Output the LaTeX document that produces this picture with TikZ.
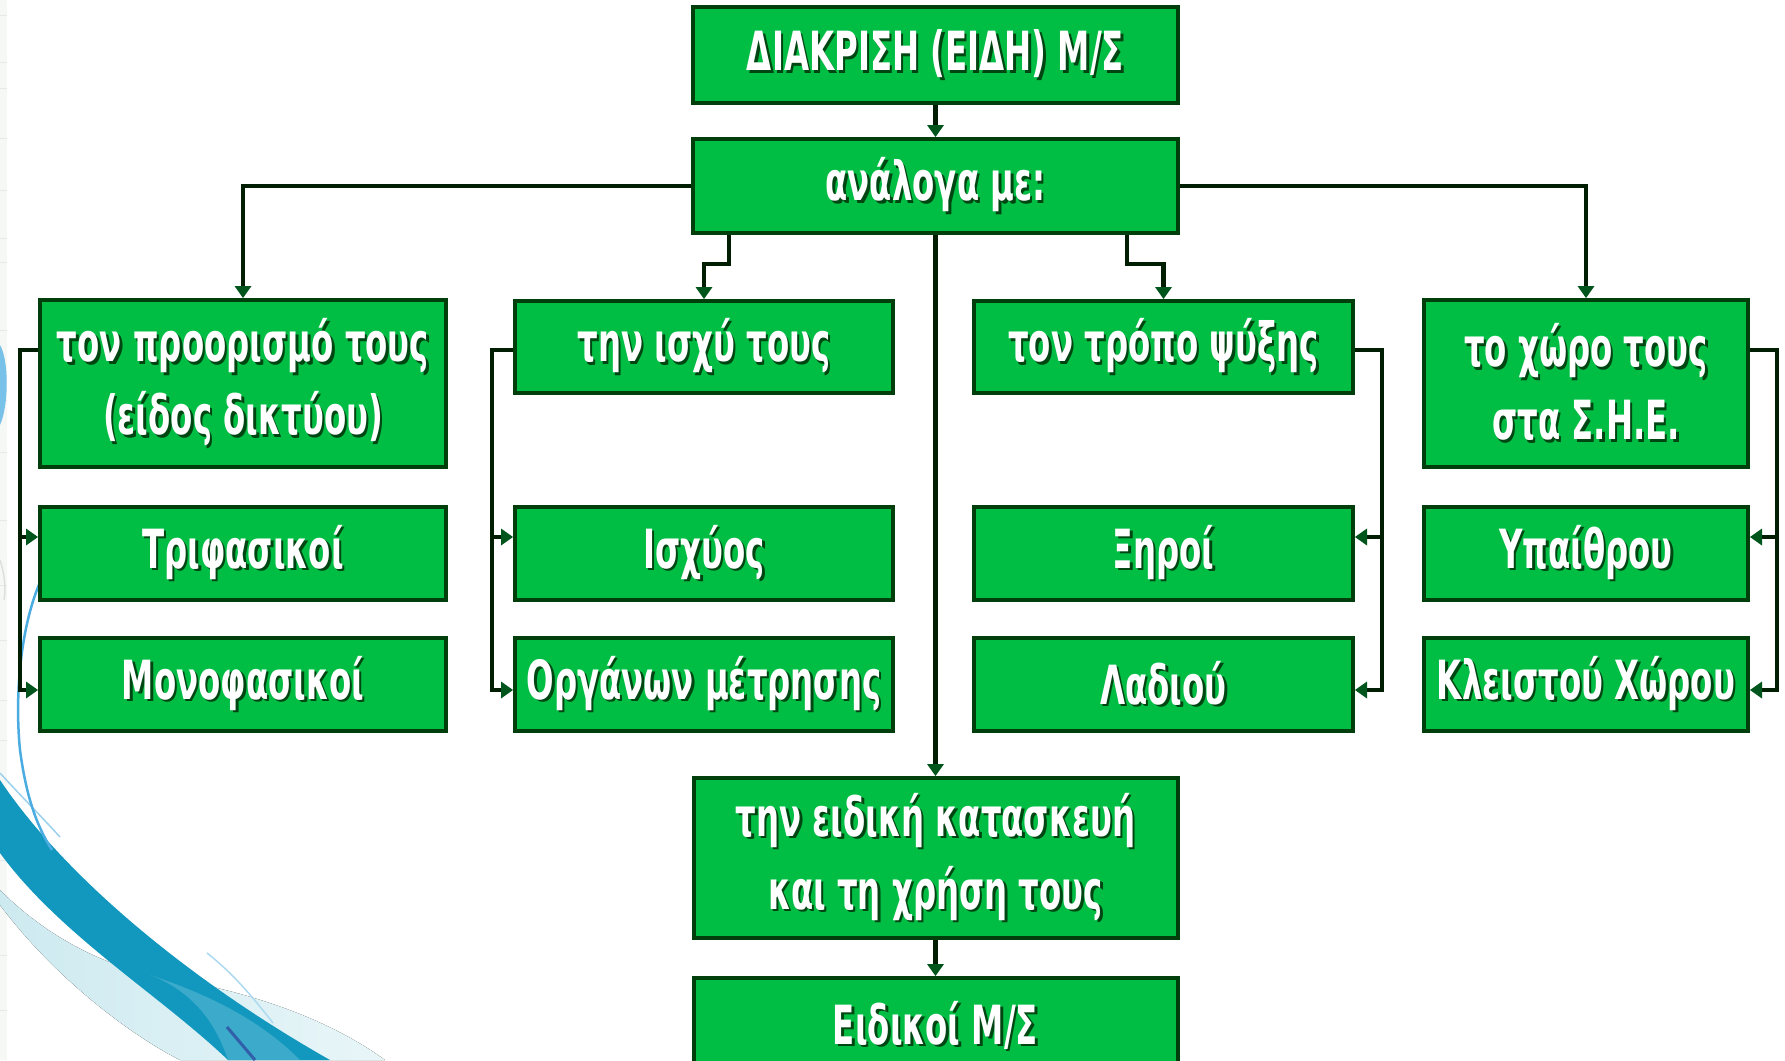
\documentclass[tikz,border=0pt]{standalone}
\usepackage{fontspec}
\newfontfamily\gfont[FakeStretch=0.6]{DejaVu Sans}
\usetikzlibrary{arrows.meta}

\definecolor{boxgreen}{RGB}{0,189,68}
\definecolor{boxedge}{RGB}{0,62,12}
\definecolor{wirecol}{RGB}{0,30,2}
\definecolor{tipgreen}{RGB}{0,85,28}
\definecolor{txtshadow}{RGB}{0,70,18}
\definecolor{swteal}{RGB}{18,152,190}
\definecolor{swpale}{RGB}{205,234,240}
\definecolor{swsky}{RGB}{75,172,225}
\definecolor{swnavy}{RGB}{50,95,170}
\definecolor{edgestrip}{RGB}{246,248,246}

% white text with a dark green drop shadow
\newcommand\txtsh[1]{\leavevmode\rlap{\kern2.5pt\raisebox{-2.5pt}{\color{txtshadow}#1}}#1}

\tikzset{
  gbox/.style={draw=boxedge, line width=4pt, fill=boxgreen, inner sep=0pt,
    text=white, align=center,
    font=\gfont\bfseries\fontsize{54}{73}\selectfont},
  wire/.style={draw=wirecol, line width=4.5pt},
  arr/.style={wire, -{Triangle[width=17pt,length=12pt,line width=0pt,color=tipgreen]}},
}

\begin{document}
\begin{tikzpicture}[x=1pt,y=-1pt]
\useasboundingbox (0,0) rectangle (1785,1060);
\fill[white] (0,0) rectangle (1785,1060);

% pale strip along the left edge
\fill[edgestrip] (0,0) rectangle (7,1060);
\foreach \yy in {15,62,88,138,190,238,262,330,400,452,520,585,640,700,740,790,860,905,955,1010}
  \draw[gray!18, line width=0.8pt] (0,\yy) -- (7,\yy);

% decorative swooshes at the lower left
\fill[swsky!75] (0,345) .. controls (9,360) and (9,405) .. (0,425) -- cycle;
\draw[gray!25, line width=1.5pt] (0,560) .. controls (5,575) and (6,590) .. (4,600);
\fill[left color=swpale, right color=swpale!45] (0,905) .. controls (60,985) and (140,1040) .. (180,1060)
  -- (385,1060) .. controls (330,1020) and (250,990) .. (150,975)
  .. controls (90,960) and (40,930) .. (0,890) -- cycle;
\fill[swteal] (0,780) .. controls (60,870) and (180,975) .. (330,1060)
  -- (228,1060) .. controls (160,995) and (60,935) .. (0,853) -- cycle;
\fill[swteal!70!white, opacity=0.6] (150,975) .. controls (190,990) and (215,1020) .. (228,1060)
  -- (300,1060) .. controls (260,1020) and (210,995) .. (150,975) -- cycle;
\draw[swsky!55, line width=1.5pt] (0,773) .. controls (20,795) and (40,815) .. (60,837);
\draw[swsky, line width=2.5pt] (45,572) .. controls (22,615) and (14,690) .. (20,750)
  .. controls (26,795) and (36,825) .. (52,850);
\draw[swsky!45, line width=1.5pt] (207,953) .. controls (235,975) and (255,1000) .. (273,1023);
\draw[swnavy, line width=3pt] (227,1027) -- (255,1060);

% boxes
\node[gbox, minimum width=485pt, minimum height=96pt] (top) at (935.5,55)
  {\txtsh{ΔΙΑΚΡΙΣΗ (ΕΙΔΗ) Μ/Σ}};
\node[gbox, minimum width=485pt, minimum height=94pt] (anl) at (935.5,186)
  {\txtsh{ανάλογα με:}};

\node[gbox, minimum width=406pt, minimum height=167pt] (p1) at (243,383.5)
  {\txtsh{τον προορισμό τους}\\\txtsh{(είδος δικτύου)}};
\node[gbox, minimum width=406pt, minimum height=93pt] (t1) at (243,553.5)
  {\txtsh{Τριφασικοί}};
\node[gbox, minimum width=406pt, minimum height=93pt] (m1) at (243,684.5)
  {\txtsh{Μονοφασικοί}};

\node[gbox, minimum width=378pt, minimum height=92pt] (p2) at (704,347)
  {\txtsh{την ισχύ τους}};
\node[gbox, minimum width=378pt, minimum height=93pt] (t2) at (704,553.5)
  {\txtsh{Ισχύος}};
\node[gbox, minimum width=378pt, minimum height=93pt] (m2) at (704,684.5)
  {\txtsh{Οργάνων μέτρησης}};

\node[gbox, minimum width=379pt, minimum height=92pt] (p3) at (1163.5,347)
  {\txtsh{τον τρόπο ψύξης}};
\node[gbox, minimum width=379pt, minimum height=93pt] (t3) at (1163.5,553.5)
  {\txtsh{Ξηροί}};
\node[gbox, minimum width=379pt, minimum height=93pt] (m3) at (1163.5,684.5)
  {\txtsh{Λαδιού}};

\node[gbox, minimum width=324pt, minimum height=167pt] (p4) at (1586,383.5)
  {\txtsh{το χώρο τους}\\\txtsh{στα Σ.Η.Ε.}};
\node[gbox, minimum width=324pt, minimum height=93pt] (t4) at (1586,553.5)
  {\txtsh{Υπαίθρου}};
\node[gbox, minimum width=324pt, minimum height=93pt] (m4) at (1586,684.5)
  {\txtsh{Κλειστού Χώρου}};

\node[gbox, minimum width=484pt, minimum height=160pt] (sp) at (935.5,858)
  {\txtsh{την ειδική κατασκευή}\\\txtsh{και τη χρήση τους}};
\node[gbox, minimum width=484pt, minimum height=97pt] (ek) at (935.5,1026.5)
  {\txtsh{Ειδικοί Μ/Σ}};

% main tree
\draw[arr] (top.south) -- (anl.north);
\draw[arr] (anl.west) -| (p1.north);
\draw[arr] (anl.east) -| (p4.north);
\coordinate (j2) at (729,264);
\coordinate (j3) at (1127,264);
\draw[arr] (anl.south -| j2) -- (j2) -| (p2.north);
\draw[arr] (anl.south -| j3) -- (j3) -| (p3.north);
\draw[arr] (anl.south) -- (sp.north);
\draw[arr] (sp.south) -- (ek.north);

% side brackets feeding the sub-boxes
\foreach \i in {1,2,3,4}{
  \coordinate (tin\i) at ([yshift=16.5pt]t\i.west);
  \coordinate (min\i) at ([yshift=-5.5pt]m\i.west);
  \coordinate (tout\i) at ([yshift=16.5pt]t\i.east);
  \coordinate (mout\i) at ([yshift=-5.5pt]m\i.east);
}
\coordinate (b1) at (20,350);
\draw[arr] (p1.west |- b1) -- (b1) |- (min1);
\draw[arr] (b1 |- tin1) -- (tin1);

\coordinate (b2) at (492,350);
\draw[arr] (p2.west |- b2) -- (b2) |- (min2);
\draw[arr] (b2 |- tin2) -- (tin2);

\coordinate (b3) at (1382,350);
\draw[arr] (p3.east |- b3) -- (b3) |- (mout3);
\draw[arr] (b3 |- tout3) -- (tout3);

\coordinate (b4) at (1777,350);
\draw[arr] (p4.east |- b4) -- (b4) |- (mout4);
\draw[arr] (b4 |- tout4) -- (tout4);
\end{tikzpicture}
\end{document}
